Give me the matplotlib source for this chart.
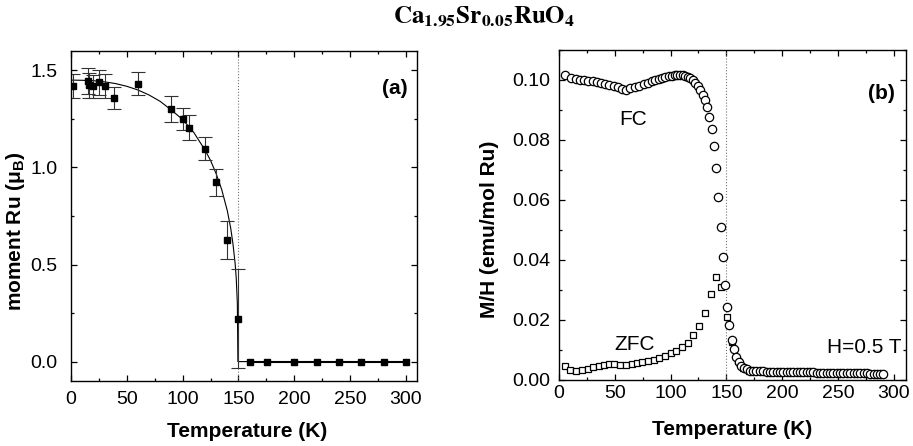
import matplotlib
matplotlib.use("Agg")
import matplotlib.pyplot as plt
from matplotlib.ticker import MultipleLocator, FormatStrFormatter

plt.rcParams['font.family'] = ['Liberation Sans', 'DejaVu Sans']
plt.rcParams['mathtext.fontset'] = 'custom'
plt.rcParams['mathtext.rm'] = 'Liberation Sans'
plt.rcParams['mathtext.bf'] = 'Liberation Sans:bold'
plt.rcParams['mathtext.it'] = 'Liberation Sans:italic'

# ---- panel (a): neutron moment ----
T_a = [2, 15, 16, 20, 25, 30, 38.5, 60, 90, 100, 106, 120, 130, 140, 150]
M_a = [1.42, 1.445, 1.423, 1.418, 1.438, 1.42, 1.358, 1.431, 1.30, 1.25,
       1.205, 1.097, 0.924, 0.626, 0.22]
M_err = [0.06, 0.065, 0.065, 0.06, 0.065, 0.06, 0.057, 0.06, 0.067, 0.058,
         0.063, 0.06, 0.07, 0.098, 0.255]
T_zero = [160, 176, 200, 220, 240, 260, 280, 300]
M_zero = [0, 0, 0, 0, 0, 0, 0, 0]

# fit curve
T_fit = [0, 10, 20, 30, 40, 50, 60, 70, 80, 90, 100, 110, 120, 125, 130, 135,
         140, 143, 145, 147, 148, 149, 149.5, 300]
M_fit = [1.45, 1.449, 1.447, 1.441, 1.432, 1.418, 1.399, 1.373, 1.340, 1.295,
         1.247, 1.180, 1.09, 1.036, 0.968, 0.886, 0.777, 0.689, 0.61, 0.506,
         0.43, 0.30, 0.0, 0.0]

# ---- panel (b): magnetisation ----
T_fc = [5.4, 10.8, 15, 18.8, 22.7, 26.3, 30.2, 34.1, 37.7, 41.3, 45.2, 49.1,
        52.7, 56.3, 59.9, 63.8, 68.3, 71.9, 75.8, 79.7, 83.3, 86.3, 89.3, 92.3,
        95.3, 98.3, 101.3, 103.7, 106.1, 108.5, 110.9, 113.3, 115.7, 117.8,
        119.9, 122.3, 124.7, 126.8, 129, 130.6, 132.5, 134.6, 136.7, 138.5,
        140.6, 142.7, 144.8, 146.9, 149, 150.5, 152.7, 155, 156.6, 158.8, 161,
        163.5, 166, 168.5,
        171, 174, 177, 180, 183, 186, 189, 192, 195, 198, 201, 204, 207, 210,
        213, 216, 219, 222, 225, 228, 231, 234, 237, 240, 243, 246, 249, 252,
        255, 258, 261, 264, 267, 270, 273, 276, 279, 282, 285, 288, 290.5]
MH_fc = [.1017, .1008, .1003, .1001, .0999, .0997, .0995, .0993, .0990, .0988,
         .0984, .0980, .0975, .0970, .0968, .0972, .0977, .0981, .0986, .0990,
         .0995, .0999, .1002, .1006, .1009, .1012, .1014, .1015, .1016, .1016,
         .1015, .1013, .1010, .1006, .0999, .0990, .0980, .0967, .0951, .0933,
         .0909, .0878, .0836, .0780, .0706, .0611, .0509, .0409, .0317, .0244,
         .0182, .0133, .0102, .0078, .0060, .0048, .0040, .0035,
         .0031, .0030, .0030, .0029, .0029, .0028, .0028, .0028, .0027, .0027,
         .0027, .0026, .0026, .0026, .0026, .0025, .0025, .0025, .0025, .0025,
         .0024, .0024, .0024, .0024, .0024, .0023, .0023, .0023, .0023, .0023,
         .0022, .0022, .0022, .0022, .0022, .0022, .0021, .0021, .0021, .0021,
         .0021]

T_zfc = [5.4, 9.9, 15, 20.3, 25.7, 30.8, 35.9, 40.7, 45.2, 49.6, 55, 60.1,
         65.2, 69.7, 74.8, 80.2, 85.3, 90, 95.1, 100.2, 105, 110.1, 115.2,
         119.8, 125.6, 130.5, 136, 140.9, 145.6, 150.5, 155, 160, 165, 170,
         175, 180, 190, 200, 210, 220, 230, 240, 250, 260, 270, 280, 290]
MH_zfc = [.0047, .0033, .0031, .0033, .0038, .0042, .0047, .0051, .0053, .0053,
          .0051, .0051, .0053, .0056, .0059, .0062, .0067, .0073, .0080, .0089,
          .0098, .0111, .0124, .0150, .0180, .0224, .0285, .0343, .0311, .0210,
          .0128, .0064, .0041, .0031, .0030, .0029, .0027, .0026, .0026, .0025,
          .0024, .0024, .0023, .0022, .0022, .0021, .0021]

fig = plt.figure(figsize=(9.13, 4.46), dpi=100)
ax1 = fig.add_axes([0.0778, 0.1457, 0.379, 0.740])
ax2 = fig.add_axes([0.6123, 0.148, 0.380, 0.740])


def style_axes(ax, xpad, ypad):
    for s in ax.spines.values():
        s.set_linewidth(1.0)
    ax.tick_params(which='both', direction='in', top=True, right=True,
                   labelsize=14, width=0.9)
    ax.tick_params(axis='x', which='major', pad=xpad)
    ax.tick_params(axis='y', which='major', pad=ypad)
    ax.tick_params(which='major', length=4.5)
    ax.tick_params(which='minor', length=2.5)
    ax.xaxis.set_major_locator(MultipleLocator(50))
    ax.xaxis.set_minor_locator(MultipleLocator(25))


# panel (a)
ax1.axvline(150, color='#777777', lw=0.8, ls=':')
ax1.plot(T_fit, M_fit, color='black', lw=0.8)
ax1.errorbar(T_a, M_a, yerr=M_err, fmt='s', color='black', ms=5,
             ecolor='#333333', elinewidth=0.8, capsize=5, capthick=0.8)
ax1.plot(T_zero, M_zero, 's-', color='black', ms=5, lw=1.5)
ax1.set_xlim(0, 310)
ax1.set_ylim(-0.1, 1.6)
style_axes(ax1, 7, 10)
ax1.yaxis.set_major_locator(MultipleLocator(0.5))
ax1.yaxis.set_minor_locator(MultipleLocator(0.25))
ax1.set_xlabel('Temperature (K)', fontsize=15, fontweight='bold')
ax1.set_ylabel(r'moment Ru ($\mathbf{\mu_B}$)', fontsize=15, fontweight='bold')
ax1.xaxis.set_label_coords(0.51, -0.125)
ax1.yaxis.set_label_coords(-0.127, 0.455)
ax1.text(0.974, 0.887, '(a)', transform=ax1.transAxes, ha='right',
         va='center', fontsize=15, fontweight='bold')

# panel (b)
ax2.axvline(149.6, color='#777777', lw=0.8, ls=':')
ax2.plot(T_zfc, MH_zfc, 's', mfc='white', mec='black', ms=5, mew=0.9)
ax2.plot(T_fc, MH_fc, 'o', mfc='white', mec='black', ms=6, mew=0.9)
ax2.set_xlim(0, 311)
ax2.set_ylim(0, 0.11)
style_axes(ax2, 3.5, 6.5)
ax2.yaxis.set_major_locator(MultipleLocator(0.02))
ax2.yaxis.set_minor_locator(MultipleLocator(0.01))
ax2.yaxis.set_major_formatter(FormatStrFormatter('%.2f'))
ax2.set_xlabel('Temperature (K)', fontsize=15, fontweight='bold')
ax2.set_ylabel('M/H (emu/mol Ru)', fontsize=15, fontweight='bold')
ax2.xaxis.set_label_coords(0.5, -0.12)
ax2.yaxis.set_label_coords(-0.173, 0.458)
ax2.text(66.7, 0.0867, 'FC', ha='center', va='center', fontsize=15)
ax2.text(68.2, 0.0117, 'ZFC', ha='center', va='center', fontsize=15)
ax2.text(0.988, 0.097, 'H=0.5 T', transform=ax2.transAxes, ha='right',
         va='center', fontsize=15)
ax2.text(0.968, 0.869, '(b)', transform=ax2.transAxes, ha='right',
         va='center', fontsize=15, fontweight='bold')

fig.text(0.530, 0.962, r'$\mathbf{Ca_{1.95}Sr_{0.05}RuO_4}$', ha='center',
         va='center', fontsize=18, math_fontfamily='stix')

fig.savefig('out.png', dpi=100)
